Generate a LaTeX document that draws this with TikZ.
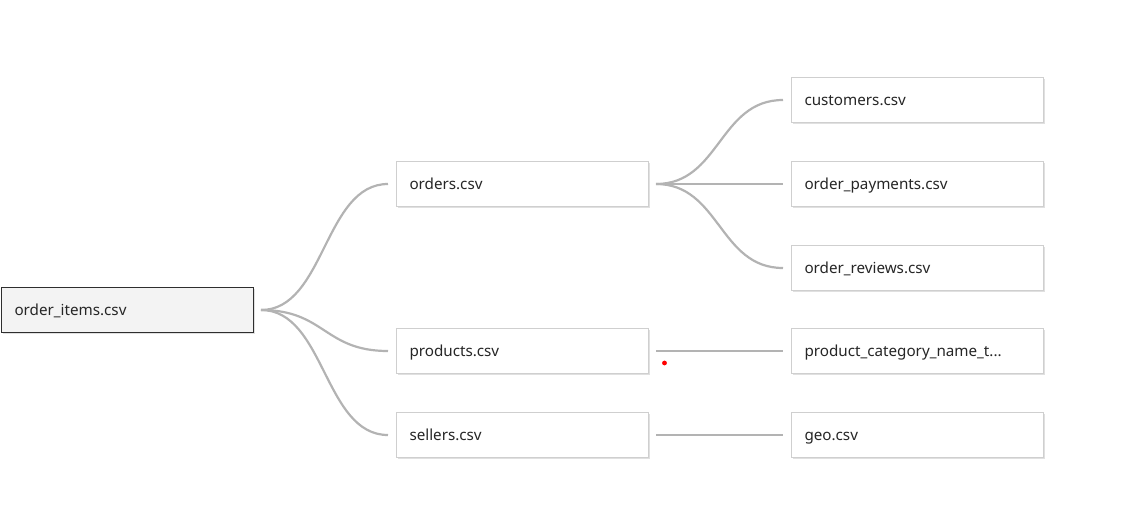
\documentclass[tikz,border=0pt]{standalone}
\usepackage{fontspec}
\setmainfont{Noto Sans}
\usetikzlibrary{shadows}
\definecolor{linkgray}{HTML}{B3B3B3}
\definecolor{boxborder}{HTML}{CFCFCF}
\definecolor{rootfill}{HTML}{F3F3F3}
\definecolor{rootborder}{HTML}{2E2E2E}
\definecolor{txt}{HTML}{262626}
\tikzset{
  box/.style={draw=boxborder, fill=white, line width=1pt, anchor=north west,
    text width=226pt, align=left, inner xsep=13pt, inner ysep=0pt,
    minimum height=45pt, text=txt, text height=13pt, text depth=1.5pt,
    font=\fontsize{15.2}{17}\selectfont,
    drop shadow={shadow xshift=1.2pt, shadow yshift=-1.2pt, fill=black, opacity=0.12}},
  rootbox/.style={box, draw=rootborder, fill=rootfill},
  link/.style={draw=linkgray, line width=2.2pt}
}
\begin{document}
\begin{tikzpicture}[x=1pt,y=-1pt]
\useasboundingbox (0,0) rectangle (1138,512);
\node[rootbox] (root) at (1,287) {order\_items.csv};
\node[box] (orders) at (396,161) {orders.csv};
\node[box] (products) at (396,328) {products.csv};
\node[box] (sellers) at (396,412) {sellers.csv};
\node[box] (customers) at (791,77) {customers.csv};
\node[box] (payments) at (791,161) {order\_payments.csv};
\node[box] (reviews) at (791,245) {order\_reviews.csv};
\node[box] (pcat) at (791,328) {product\_category\_name\_t...};
\node[box] (geo) at (791,412) {geo.csv};
\foreach \a/\b in {root/orders,root/products,root/sellers,orders/customers,orders/payments,orders/reviews,products/pcat,sellers/geo}{
  \draw[link] ([xshift=7pt]\a.east) .. controls +(64,0) and +(-64,0) .. ([xshift=-8pt]\b.west);
}
\fill[red] (664.5,363) circle (2.4pt);
\end{tikzpicture}
\end{document}
